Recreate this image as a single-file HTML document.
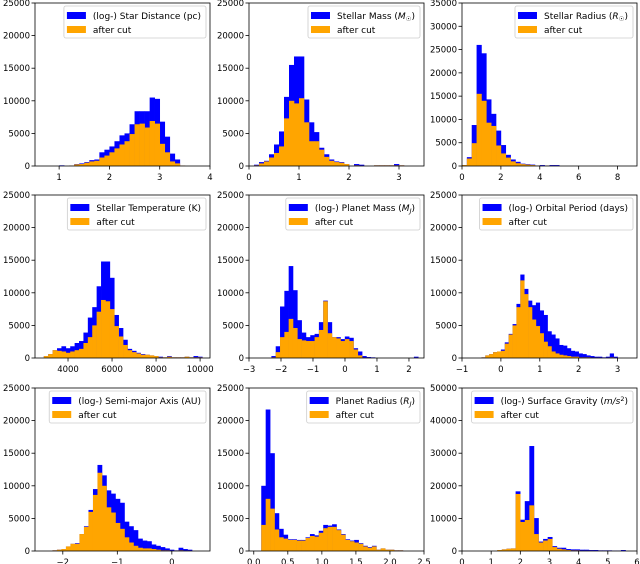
<!DOCTYPE html>
<html><head><meta charset="utf-8"><style>
html,body{margin:0;padding:0;background:#fff;}
svg{display:block;font-family:"DejaVu Sans","Liberation Sans",sans-serif;}
</style></head><body>
<svg id="fig" width="640" height="564" xmlns="http://www.w3.org/2000/svg"></svg>
<script>
// ---- data (bin start, bin width, blue counts, orange counts) ----
const p1Blue=[100,0,50,300,400,600,900,1000,2100,2500,3000,3800,4700,5000,6400,8400,8400,8400,10500,10300,6800,4500,1900,1000,50];
const p1Orange=[0,0,50,250,300,500,700,800,1300,1600,2100,2700,3300,3800,4900,6400,6500,5900,6900,6500,3400,2100,700,400,50];
const p2Blue=[200,600,800,1800,3300,5300,10600,15500,16800,16800,10200,6700,5200,2800,1800,1000,700,600,300,0,300,200,0,0,100,100,100,100,300,100];
const p2Orange=[100,400,700,1300,2000,3000,7300,10000,9600,10400,6700,3800,3800,2500,1400,800,600,500,300,0,100,50,0,0,100,100,100,100,100,100];
const p3Blue=[200,1900,8800,26000,24200,14300,11200,7600,4500,2400,1400,900,500,400,300,100,200,100,200,200];
const p3Orange=[200,1600,4900,15500,14000,9300,8600,4400,2700,1800,1000,600,400,300,200,50,50,50,50,50];
const p4Blue=[300,600,1200,1500,1800,1500,1800,2300,2600,3900,6200,7800,11000,14800,14800,12300,6600,4600,2800,1400,1100,800,600,500,400,300,200,100,300,100,100,100,200,100,300,200];
const p4Orange=[300,600,1200,1100,1000,800,1000,1200,1400,2300,3200,5000,7100,8900,8700,7500,4900,3300,2000,1200,900,700,500,500,400,300,100,100,200,100,100,100,200,100,100,100];
const p5Blue=[300,1800,7900,10300,14100,10400,5800,3900,3200,3500,3700,5500,8800,5500,3200,3200,2900,3300,3100,1500,1000,300,150,100,0,0,0,0,0,0,0,0,0,200];
const p5Orange=[100,900,3200,4000,6000,4600,2900,2700,2600,2600,3200,4300,8700,3800,3200,3000,2600,2900,2600,1300,400,50,50,0,0,0,0,0,0,0,0,0,0,50];
const p6Blue=[100,400,600,900,1000,1300,2400,3700,5200,8300,12800,10600,8800,8100,8500,7300,6600,4100,3600,3000,2000,1900,1500,1100,1000,700,600,400,300,200,200,100,200,700,200];
const p6Orange=[100,400,600,900,1000,1100,2200,3600,5000,7800,11900,9800,7800,5900,4900,3800,2500,1800,1000,700,500,400,300,200,200,100,100,100,50,50,50,0,50,100,50];
const p7Blue=[100,200,300,700,1100,1200,2600,3800,6300,9500,13200,11600,9300,8800,8000,7400,4500,3800,3200,1900,1600,1500,1000,800,600,400,200,100,500,300,200];
const p7Orange=[100,200,300,700,1100,1100,2600,3700,6000,8600,12000,10000,6700,5900,4300,3400,2100,1300,800,500,400,400,300,200,100,100,50,50,100,50,50];
const p8Blue=[10000,21700,15000,5800,3400,2500,1800,1800,1700,1700,2100,2600,2400,3100,4000,3900,4100,3300,2600,1800,1600,1700,1200,800,600,800,200,400,200,200,100,100];
const p8Orange=[4000,8000,6500,3300,2100,1900,1700,1700,1600,1600,2000,2300,2200,2800,3500,3700,3700,3200,2500,1700,1500,1300,1100,700,500,700,200,400,200,200,100,100];
const p9Blue=[300,500,700,800,18300,9600,15300,32200,10100,2900,3700,4300,1500,1000,1000,600,500,500,400,400,300,300,200,200,200,100,100,300];
const p9Orange=[300,500,700,800,17500,8900,9500,14000,5200,2600,3200,3700,1200,700,500,300,200,200,100,100,100,50,50,50,50,0,0,50];
const xTicks1=["1","2","3","4"], xTicks2=["0","1","2","3"], xTicks3=["0","2","4","6","8"];
const xTicks4=["4000","6000","8000","10000"], xTicks5=["−3","−2","−1","0","1","2"], xTicks6=["−1","0","1","2","3"];
const xTicks7=["−2","−1","0"], xTicks8=["0.0","0.5","1.0","1.5","2.0","2.5"], xTicks9=["0","1","2","3","4","5","6"];
const legendLabels=["(log-) Star Distance (pc)","Stellar Mass (M☉)","Stellar Radius (R☉)","Stellar Temperature (K)","(log-) Planet Mass (MJ)","(log-) Orbital Period (days)","(log-) Semi-major Axis (AU)","Planet Radius (RJ)","(log-) Surface Gravity (m/s²)"];

const NS="http://www.w3.org/2000/svg";
const svg=document.getElementById('fig');
function mk(tag,attrs,parent){const e=document.createElementNS(NS,tag);for(const k in attrs)e.setAttribute(k,attrs[k]);(parent||svg).appendChild(e);return e;}
function num(s){return parseFloat(s.replace('−','-'));}

const colL=[35,249,462], rowT=[3,195,388], W=175, H=163;
const panels=[
 {b:p1Blue,o:p1Orange,s:1.0,w:0.1,xl:[0.52,4.0],yl:25000,ys:5000,xt:xTicks1},
 {b:p2Blue,o:p2Orange,s:0.1,w:0.1,xl:[0,3.5],yl:25000,ys:5000,xt:xTicks2},
 {b:p3Blue,o:p3Orange,s:0,w:0.25,xl:[0,9],yl:35000,ys:5000,xt:xTicks3},
 {b:p4Blue,o:p4Orange,s:2900,w:200,xl:[2500,10450],yl:25000,ys:5000,xt:xTicks4},
 {b:p5Blue,o:p5Orange,s:-2.3,w:0.135,xl:[-3,2.47],yl:25000,ys:5000,xt:xTicks5},
 {b:p6Blue,o:p6Orange,s:-0.5,w:0.1,xl:[-1,3.5],yl:25000,ys:5000,xt:xTicks6},
 {b:p7Blue,o:p7Orange,s:-2.19,w:0.0826,xl:[-2.51,0.7],yl:25000,ys:5000,xt:xTicks7},
 {b:p8Blue,o:p8Orange,s:0.11,w:0.065,xl:[-0.07,2.5],yl:25000,ys:5000,xt:xTicks8},
 {b:p9Blue,o:p9Orange,s:1.21,w:0.157,xl:[0,6],yl:50000,ys:10000,xt:xTicks9}
];

panels.forEach((p,i)=>{
  const L=colL[i%3], T=rowT[Math.floor(i/3)], B=T+H, R=L+W;
  const g=mk('g',{});
  
  
  const sx=v=>L+(v-p.xl[0])/(p.xl[1]-p.xl[0])*W;
  const sy=v=>B-v/p.yl*H;
  [[p.b,'#0000ff','all'],[p.o,'#ffa500','cut']].forEach(([arr,col,nm])=>{
    arr.forEach((v,k)=>{
      if(v<=0)return;
      const x0=sx(p.s+k*p.w), x1=sx(p.s+(k+1)*p.w);
      const r=mk('rect',{x:x0,y:sy(v),width:Math.max(0,x1-x0+0.3),height:B-sy(v),fill:col},g);
      
      
    });
  });
  const fr=mk('rect',{x:L,y:T,width:W,height:H,fill:'none',stroke:'#000','stroke-width':0.8},g);
  
  
  for(let v=0;v<=p.yl;v+=p.ys){
    const y=sy(v);
    mk('line',{x1:L-3.5,x2:L,y1:y,y2:y,stroke:'#000','stroke-width':0.8},g);
    const t=mk('text',{x:L-5,y:y+3,'text-anchor':'end','font-size':8.5,fill:'#000'},g);
    t.textContent=String(v);
    
    
  }
  p.xt.forEach(lbl=>{
    const x=sx(num(lbl));
    mk('line',{x1:x,x2:x,y1:B,y2:B+3.5,stroke:'#000','stroke-width':0.8},g);
    const t=mk('text',{x:x,y:B+14,'text-anchor':'middle','font-size':8.5,fill:'#000'},g);
    t.textContent=lbl;
    
    
  });
  const lg=mk('g',{},g);
  
  
  const box=mk('rect',{x:0,y:T+3,width:10,height:32,rx:2,fill:'#fff','fill-opacity':0.8,stroke:'#ccc','stroke-width':0.8},lg);
  const t1=mk('text',{x:0,y:T+16,'font-size':9,fill:'#000'},lg);
  const lab=legendLabels[i];
  const m=lab.match(/^(.*\()([MR])(☉|J)\)$/);
  const gm=lab.match(/^(.*\()(m\/s)²\)$/);
  if(m){
    t1.appendChild(document.createTextNode(m[1]));
    const a=mk('tspan',{'font-style':'italic'},t1);a.textContent=m[2];
    const b=mk('tspan',{'font-size':6.5,dy:2,'font-style':m[3]==='J'?'italic':'normal'},t1);b.textContent=m[3];
    const c=mk('tspan',{dy:-2},t1);c.textContent=')';
  } else if(gm){
    t1.appendChild(document.createTextNode(gm[1]));
    const a=mk('tspan',{'font-style':'italic'},t1);a.textContent=gm[2];
    const b=mk('tspan',{'font-size':6.5,dy:-3},t1);b.textContent='2';
    const c=mk('tspan',{dy:3},t1);c.textContent=')';
  } else t1.textContent=lab;
  
  
  const t2=mk('text',{x:0,y:T+30,'font-size':9,fill:'#000'},lg);
  t2.textContent='after cut';
  
  
  const tw=Math.max(t1.getComputedTextLength(),t2.getComputedTextLength());
  const bw=tw+34, bx=R-4-bw;
  box.setAttribute('x',bx);box.setAttribute('width',bw);
  t1.setAttribute('x',bx+29);t2.setAttribute('x',bx+29);
  const h1=mk('rect',{x:bx+3,y:T+9,width:19,height:7,fill:'#0000ff'},lg);
  
  
  const h2=mk('rect',{x:bx+3,y:T+23,width:19,height:7,fill:'#ffa500'},lg);
  
  
});
</script>
</body></html>
